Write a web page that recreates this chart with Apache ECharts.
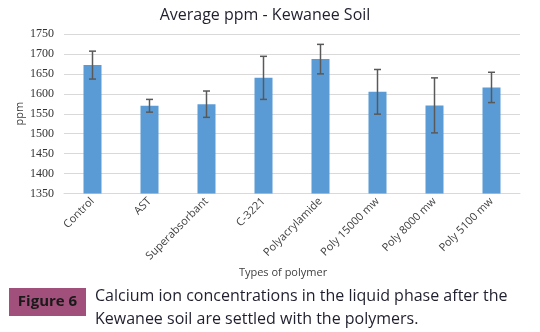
<!DOCTYPE html>
<html>
<head>
<meta charset="utf-8">
<script src="https://cdn.jsdelivr.net/npm/echarts@6/dist/echarts.min.js"></script>
<style>
  html, body { margin: 0; padding: 0; background: #ffffff; }
  #chart { width: 540px; height: 332px; }
</style>
</head>
<body>
<div id="chart"></div>
<script>
// Polymer treatments and the mean calcium concentration (ppm) for each
const categories = ['Control', 'AST', 'Superabsorbant', 'C-3221', 'Polyacrylamide', 'Poly 15000 mw', 'Poly 8000 mw', 'Poly 5100 mw'];
const meanPpm = [1672, 1570, 1574, 1640, 1687, 1605, 1571, 1616];
// Half-width of each error bar (ppm)
const errorPpm = [35, 16, 33, 54, 37, 56, 69, 38];
const yTicks = { min: 1350, max: 1750, step: 50 };

const chart = echarts.init(document.getElementById('chart'), null, { renderer: 'canvas' });

const errorData = meanPpm.map((v, i) => [i, v - errorPpm[i], v + errorPpm[i]]);

chart.setOption({
  animation: false,
  title: {
    text: 'Average ppm - Kewanee Soil',
    left: 260,
    top: 2,
    textAlign: 'center',
    textStyle: { fontFamily: 'Open Sans', fontSize: 16, fontWeight: 'normal', color: '#1f1f2e' }
  },
  grid: { left: 64, right: 20, top: 34, bottom: 138.5 },
  xAxis: {
    type: 'category',
    data: categories,
    name: 'Types of polymer',
    nameLocation: 'middle',
    nameGap: 74,
    nameTextStyle: { fontFamily: 'Open Sans', fontSize: 11, color: '#404040', padding: [0, 18, 0, 0] },
    axisLine: { lineStyle: { color: '#d9d9d9' } },
    axisTick: { show: false },
    axisLabel: { rotate: 45, interval: 0, margin: 6, fontFamily: 'Open Sans', fontSize: 11, color: '#404040' }
  },
  yAxis: {
    type: 'value',
    min: yTicks.min,
    max: yTicks.max,
    interval: yTicks.step,
    name: 'ppm',
    nameLocation: 'middle',
    nameGap: 39,
    nameMoveOverlap: false,
    nameRotate: 90,
    nameTextStyle: { fontFamily: 'Open Sans', fontSize: 11, color: '#404040' },
    axisLine: { show: false },
    axisTick: { show: false },
    splitLine: { lineStyle: { color: '#d9d9d9' } },
    axisLabel: {
      margin: 10,
      fontFamily: 'Liberation Serif',
      fontSize: 12,
      color: '#333333',
      formatter: function (v) { return String(v); }
    }
  },
  series: [
    {
      type: 'bar',
      data: meanPpm,
      barWidth: 18,
      itemStyle: { color: '#5b9bd5' }
    },
    {
      type: 'custom',
      data: errorData,
      z: 10,
      renderItem: function (params, api) {
        const x = api.value(0);
        const lo = api.coord([x, api.value(1)]);
        const hi = api.coord([x, api.value(2)]);
        const cap = 3.5;
        const style = { stroke: '#595959', lineWidth: 1.5 };
        return {
          type: 'group',
          children: [
            { type: 'line', shape: { x1: hi[0], y1: hi[1], x2: lo[0], y2: lo[1] }, style: style },
            { type: 'line', shape: { x1: hi[0] - cap, y1: hi[1], x2: hi[0] + cap, y2: hi[1] }, style: style },
            { type: 'line', shape: { x1: lo[0] - cap, y1: lo[1], x2: lo[0] + cap, y2: lo[1] }, style: style }
          ]
        };
      }
    }
  ],
  graphic: [
    {
      type: 'rect',
      shape: { x: 9, y: 288, width: 77, height: 28 },
      style: { fill: '#a0507a' }
    },
    {
      type: 'text',
      x: 47.5,
      y: 302,
      style: {
        text: 'Figure 6',
        fontFamily: 'Open Sans',
        fontSize: 15,
        fontWeight: 'bold',
        fill: '#1a1a1a',
        align: 'center',
        verticalAlign: 'middle'
      }
    },
    {
      type: 'text',
      x: 95,
      y: 285,
      style: {
        text: 'Calcium ion concentrations in the liquid phase after the\nKewanee soil are settled with the polymers.',
        fontFamily: 'Open Sans',
        fontSize: 16,
        lineHeight: 23,
        fill: '#1f1f2e'
      }
    }
  ]
});
</script>
</body>
</html>
